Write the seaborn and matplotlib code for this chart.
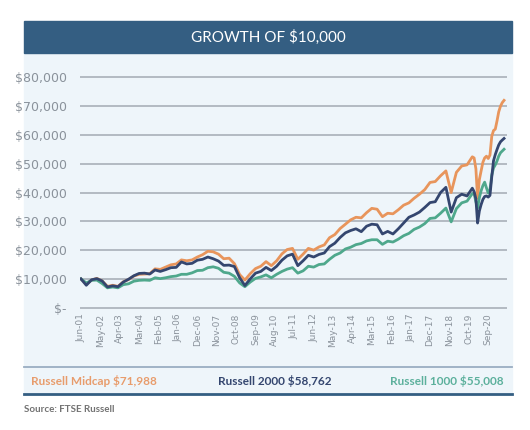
import numpy as np
import pandas as pd
import matplotlib
matplotlib.use("Agg")
import matplotlib.pyplot as plt
import seaborn as sns
from matplotlib.patches import Rectangle
from matplotlib.lines import Line2D

# ---------------------------
# data (values in $ thousands)
# quarterly Jun-01 .. Dec-19, then monthly Jan-20 .. Jun-21
# ---------------------------
quarter_dates = pd.date_range("2001-06-01", "2019-12-01", freq="3MS")
monthly_dates = pd.date_range("2020-01-01", "2021-06-01", freq="MS")
dates = quarter_dates.append(monthly_dates)

midcap = [
    10.0, 8.2, 9.6, 10.2, 9.3, 7.4, 7.8, 7.4, 9.0, 9.8,
    11.0, 11.6, 11.7, 11.8, 13.5, 13.3, 14.1, 14.9, 15.2, 16.6,
    16.3, 16.6, 17.6, 18.4, 19.6, 19.4, 18.6, 17.0, 17.2, 15.3,
    11.5, 9.6, 11.8, 13.6, 14.4, 16.0, 14.6, 16.3, 18.7, 20.2,
    20.6, 16.8, 18.6, 20.6, 20.0, 21.1, 21.8, 24.3, 25.4, 27.5,
    29.0, 30.5, 31.4, 31.2, 33.0, 34.5, 34.2, 31.6, 32.8, 32.6,
    34.0, 35.6, 36.4, 38.0, 39.4, 41.0, 43.5, 43.8, 45.8, 47.5,
    40.0, 47.0, 49.2, 49.6, 52.4,
    52.0, 48.2, 38.0, 44.5, 47.5, 50.5, 52.0, 52.6, 51.8, 53.0,
    59.5, 61.5, 62.0, 65.0, 68.0, 70.0, 71.2, 71.988,
]
r2000 = [
    10.0, 7.8, 9.7, 10.1, 9.3, 7.2, 7.6, 7.3, 8.9, 9.9,
    11.1, 11.9, 12.0, 11.7, 13.1, 12.6, 13.2, 13.9, 14.0, 15.9,
    15.2, 15.4, 16.5, 16.8, 17.6, 17.0, 16.2, 14.7, 14.8, 14.3,
    10.4, 7.7, 10.0, 12.0, 12.6, 14.0, 12.9, 14.4, 16.5, 18.0,
    18.6, 14.6, 16.3, 18.2, 17.6, 18.5, 19.0, 21.2, 22.4, 24.4,
    26.0, 26.8, 27.4, 26.4, 28.3, 29.0, 28.8, 25.6, 26.5, 25.6,
    27.4, 29.4, 31.4, 32.2, 33.2, 34.8, 36.5, 36.8, 40.0, 41.8,
    33.2, 38.2, 39.4, 38.8, 41.5,
    40.3, 37.8, 29.4, 33.6, 35.8, 37.6, 38.6, 38.8, 38.4, 39.0,
    45.5, 51.0, 53.2, 55.0, 56.5, 57.6, 58.2, 58.762,
]
r1000 = [
    10.0, 8.6, 9.5, 9.6, 8.4, 6.9, 7.2, 6.9, 8.0, 8.3,
    9.2, 9.5, 9.6, 9.5, 10.4, 10.1, 10.4, 10.8, 11.0, 11.6,
    11.6, 12.1, 12.9, 13.0, 13.9, 14.2, 13.7, 12.3, 12.0, 10.9,
    8.6, 7.3, 8.9, 10.2, 10.7, 11.4, 10.4, 11.6, 12.6, 13.4,
    13.9, 12.0, 12.8, 14.4, 14.1, 15.0, 15.2, 16.8, 18.2, 19.0,
    20.4, 21.0, 21.9, 22.3, 23.2, 23.6, 23.6, 22.0, 23.1, 22.8,
    23.8, 25.0, 25.8, 27.2, 28.0, 29.2, 31.0, 31.2, 32.8, 34.6,
    29.8, 34.4, 36.4, 37.0, 39.6,
    39.6, 36.8, 34.6, 38.2, 40.6, 42.4, 43.6, 41.6, 39.8, 41.0,
    46.0, 48.5, 49.6, 51.0, 52.6, 53.8, 54.4, 55.008,
]

series_names = ["Russell Midcap", "Russell 1000", "Russell 2000"]
legend_texts = ["Russell Midcap $71,988", "Russell 2000 $58,762", "Russell 1000 $55,008"]

y_ticks = [0, 10000, 20000, 30000, 40000, 50000, 60000, 70000, 80000]
y_labels = ["$-", "$10,000", "$20,000", "$30,000", "$40,000",
            "$50,000", "$60,000", "$70,000", "$80,000"]

x_labels = ["Jun-01", "May-02", "Apr-03", "Mar-04", "Feb-05", "Jan-06", "Dec-06",
            "Nov-07", "Oct-08", "Sep-09", "Aug-10", "Jul-11", "Jun-12", "May-13",
            "Apr-14", "Mar-15", "Feb-16", "Jan-17", "Dec-17", "Nov-18", "Oct-19",
            "Sep-20"]

# ---------------------------
# colours / fonts
# ---------------------------
C_ORANGE = "#e8955c"
C_NAVY = "#34466f"
C_GREEN = "#4fa88c"
C_BAR = "#345e82"
C_PANEL = "#eef5fa"
C_GRID = "#a9b0b8"
C_TICK = "#8a929b"

NARROW = ["Liberation Sans Narrow", "DejaVu Sans"]
plt.rcParams["font.family"] = ["Lato", "DejaVu Sans"]

df = pd.DataFrame({
    "date": np.tile(dates, 3),
    "value": np.concatenate([midcap, r1000, r2000]) * 1000,
    "index": np.repeat(series_names, len(dates)),
})

W, H = 530, 430
fig = plt.figure(figsize=(W / 100, H / 100), dpi=100)


def fy(py):
    return 1 - py / H


# background panel, title bar, legend strip
fig.add_artist(Rectangle((24 / W, fy(367)), 488 / W, 315 / H,
                         transform=fig.transFigure, color=C_PANEL, zorder=0))
fig.add_artist(Rectangle((24 / W, fy(394)), 488 / W, 27 / H,
                         transform=fig.transFigure, color=C_PANEL, zorder=0))
fig.add_artist(Rectangle((24 / W, fy(53)), 488 / W, 32 / H,
                         transform=fig.transFigure, color=C_BAR, zorder=1))
fig.add_artist(Line2D([24 / W, 512 / W], [fy(367), fy(367)],
                      transform=fig.transFigure, color="#9aaec2", lw=1.3))
fig.add_artist(Line2D([24 / W, 512 / W], [fy(394), fy(394)],
                      transform=fig.transFigure, color=C_BAR, lw=2.0))

fig.text(268 / W, fy(37), "GROWTH OF $10,000", color="white", fontsize=11,
         ha="center", va="center", zorder=2)

# ---------------------------
# chart
# ---------------------------
ax = fig.add_axes([80 / W, fy(310.6), 427 / W, 236.2 / H])
ax.patch.set_alpha(0)

sns.lineplot(data=df, x="date", y="value", hue="index", hue_order=series_names,
             palette=[C_ORANGE, C_GREEN, C_NAVY], linewidth=2.0, legend=False,
             ax=ax, zorder=3)

ax.set_ylim(-1000, 81000)
ax.set_xlim(pd.Timestamp("2001-05-15"), pd.Timestamp("2021-07-22"))
ax.set_yticks(y_ticks)
ax.set_yticklabels(y_labels, family=NARROW, fontsize=9, color=C_TICK)
ax.set_xticks(pd.to_datetime(x_labels, format="%b-%y"))
ax.set_xticklabels(x_labels, family=NARROW, fontsize=6.5, color=C_TICK, rotation=90)
ax.tick_params(axis="y", length=0, pad=9.5)
ax.tick_params(axis="x", length=0, pad=2)
ax.yaxis.grid(True, color=C_GRID, lw=1.2)
ax.xaxis.grid(False)
ax.set_axisbelow(True)
for s in ax.spines.values():
    s.set_visible(False)
ax.set_xlabel("")
ax.set_ylabel("")

# legend row
fig.text(31 / W, fy(381), legend_texts[0], color="#e89c6c", fontsize=8.5,
         fontweight="bold", ha="left", va="center")
fig.text(275 / W, fy(381), legend_texts[1], color=C_NAVY, fontsize=8.5,
         fontweight="bold", ha="center", va="center")
fig.text(504 / W, fy(381), legend_texts[2], color="#5cb09c", fontsize=8.5,
         fontweight="bold", ha="right", va="center")

fig.text(24 / W, fy(409), "Source: FTSE Russell", color="#727272", fontsize=7,
         fontweight="bold", ha="left", va="center")

fig.savefig("out.png", dpi=100, facecolor="white")
